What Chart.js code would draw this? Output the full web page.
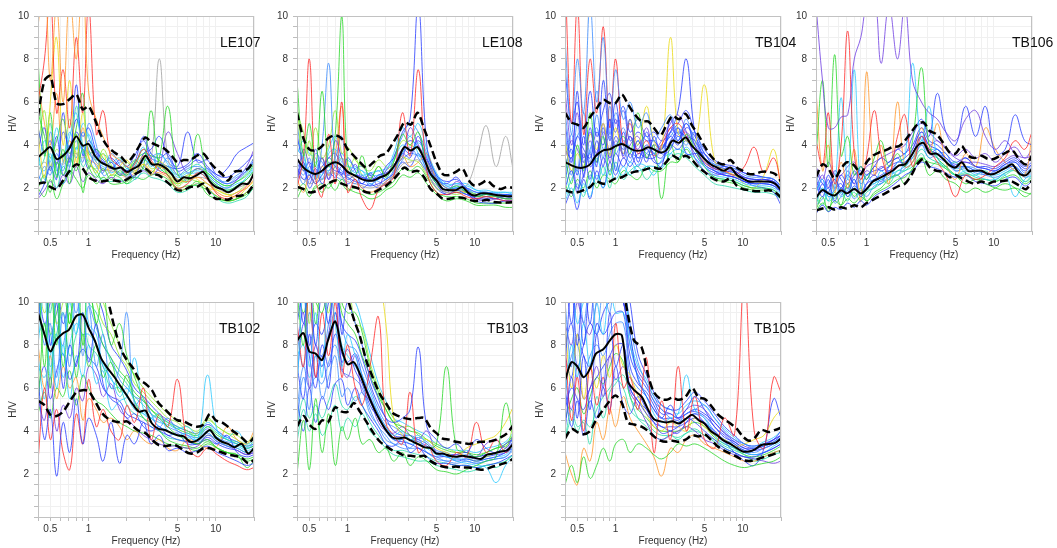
<!DOCTYPE html>
<html>
<head>
<meta charset="utf-8">
<script src="https://cdn.jsdelivr.net/npm/chart.js@4.4.0/dist/chart.umd.min.js"></script>
<style>
  body { margin: 0; background: #fff; width: 1057px; height: 548px; position: relative; overflow: hidden; }
  canvas { position: absolute; }
</style>
</head>
<body>
<script>
// frequency grids (Hz)
const FREQ_MEAN = [0.4,0.45,0.5,0.56,0.63,0.7,0.8,0.9,1.0,1.12,1.25,1.4,1.6,1.8,2.0,2.25,2.5,2.8,3.15,3.55,4.0,4.5,5.0,5.6,6.3,7.1,8.0,9.0,10,11.2,12.5,14,16,18,20];
const FREQ_WIN = [0.4,0.45,0.5,0.56,0.63,0.71,0.8,0.9,1,1.15,1.3,1.5,1.75,2,2.3,2.7,3.1,3.6,4.2,5,6,7.2,8.6,10.3,12.3,14.7,17.5,20];
const X_TICKS = [0.4,0.5,0.6,0.7,0.8,0.9,1,2,3,4,5,6,7,8,9,10,20];
const X_LABELS = [0.5,1,5,10];
const Y_LABELS = [2,4,6,8,10];

// LE107
const LE107_MEAN  = [3.43,3.7,3.9,3.35,3.5,3.8,4.4,3.97,4.05,3.5,3.2,3.05,2.9,2.95,2.75,2.9,3.05,3.5,3.1,3.1,2.95,2.65,2.3,2.5,2.45,2.6,2.75,2.3,2.05,1.95,1.8,1.95,2.2,2.2,2.7];
const LE107_UPPER = [5.35,7.0,7.2,5.95,5.9,6.1,6.35,5.65,5.8,5.2,4.45,3.95,3.65,3.45,3.2,3.5,3.95,4.35,4.1,3.95,3.8,3.5,3.2,3.3,3.3,3.5,3.6,3.2,2.9,2.65,2.35,2.75,2.8,2.9,3.3];
const LE107_LOWER = [2.2,2.25,2.05,1.95,2.35,2.75,3.1,2.9,2.5,2.35,2.3,2.35,2.35,2.3,2.4,2.6,2.75,2.9,2.65,2.6,2.35,2.1,1.9,1.9,2.05,2.05,2.2,1.75,1.5,1.5,1.45,1.6,1.65,1.8,2.2];
const LE107_WINDOWS = [
  [9.5,12,7,10.5,6,11,8,12,6.5,5.2,4.4,3.6,3.3,3.0,2.9,3.5,3.2,3.0,2.8,2.4,2.3,2.5,2.2,1.8,1.6,1.8,2.0,2.4],
  [6,8,11,5.5,7.5,4.8,9,5.5,10.5,4.5,5.6,3.4,3.0,2.7,3.1,3.8,3.3,2.8,2.6,2.0,2.2,2.7,2.4,1.7,1.5,1.7,2.1,2.6],
  [4.5,2.5,6,9,4,7,3.2,5.5,3.5,2.7,3.6,2.6,3.0,3.3,2.8,3.1,2.6,3.2,2.9,2.2,2.6,2.4,2.0,1.9,1.7,1.6,2.0,2.3],
  [8,3.5,5.5,2.5,3.8,2.2,4.5,1.8,3.0,2.8,2.3,2.6,2.5,2.2,2.6,3.0,5.6,3.0,2.6,1.9,2.0,2.3,1.7,1.5,1.4,1.5,1.8,2.2],
  [2.0,2.6,1.8,3.2,2.6,3.4,2.8,3.8,3.0,2.5,2.9,2.4,2.8,2.6,3.3,2.9,2.7,3.4,5.8,2.7,2.3,4.5,2.6,2.1,1.9,2.1,2.4,2.8],
  [3.0,4.2,3.2,4.8,3.5,4.4,5.5,3.6,4.5,3.4,3.1,3.3,2.7,2.9,3.1,3.9,3.0,3.6,3.1,2.5,2.7,2.8,2.6,2.2,2.0,2.2,2.4,2.9],
  [2.3,3.0,2.6,3.6,2.8,4.0,3.4,4.6,3.8,3.0,2.7,3.6,3.1,2.5,3.0,3.2,3.6,2.9,3.4,2.6,2.9,3.0,2.8,2.4,2.3,2.6,2.9,3.4],
  [1.6,2.2,3.0,2.4,5.5,3.2,6.8,3.5,4.2,3.6,2.8,3.2,2.6,2.8,2.5,3.6,3.8,4.4,3.5,3.0,4.6,3.2,3.3,2.6,2.9,3.6,3.9,4.1],
  [4.8,3.6,4.2,3.1,4.6,3.9,5.2,4.4,4.8,3.7,3.3,2.9,3.3,3.0,3.5,4.2,3.4,3.2,3.0,2.9,3.1,3.6,3.0,2.6,2.5,2.8,3.2,3.6],
  [2.8,3.2,2.9,3.3,3.1,3.5,3.6,3.4,3.7,3.2,2.9,2.8,2.7,2.6,2.8,3.0,3.3,8.0,3.4,2.6,2.4,2.5,2.4,2.0,1.8,2.0,2.2,2.6],
  [3.6,2.4,3.0,2.0,3.0,2.6,3.9,3.0,3.3,2.6,2.4,2.3,2.4,2.2,2.4,2.7,2.5,2.4,2.2,1.8,1.9,2.2,2.0,1.5,1.3,1.4,1.6,2.1],
  [1.5,1.9,2.3,2.0,2.6,2.2,3.0,2.3,2.7,2.4,2.2,2.5,2.3,2.4,2.6,2.8,2.6,3.0,4.6,3.6,2.7,2.9,2.6,2.2,2.0,2.4,3.0,3.8],
  [3.2,2.8,3.6,2.6,3.2,4.6,3.8,5.0,4.4,3.2,3.0,2.7,2.9,2.6,2.9,3.3,3.1,2.8,2.9,2.4,2.6,2.7,2.5,2.1,1.9,2.1,2.5,3.0],
  [5.5,4.4,3.4,4.2,5.2,3.6,4.8,6.4,3.6,3.8,3.4,3.0,2.6,2.7,3.2,3.6,3.5,3.3,2.6,2.2,2.5,2.9,2.7,2.3,2.1,2.3,2.6,3.1],
  [2.6,2.2,4.6,3.0,2.2,3.0,4.2,3.2,5.0,4.0,2.6,2.8,3.2,3.0,2.4,2.9,3.4,3.6,3.2,2.8,2.3,2.6,2.9,2.5,2.2,2.5,2.8,3.2],
  [4.0,5.6,3.0,3.8,3.4,5.2,3.6,4.0,3.2,2.9,3.8,3.1,2.6,3.2,2.7,3.4,2.9,3.0,2.7,2.1,2.4,2.3,2.2,1.9,1.7,1.8,2.2,2.6],
  [2.0,1.6,2.4,1.5,2.2,2.8,2.4,2.0,2.6,2.2,2.5,2.2,2.2,2.3,2.5,2.4,2.6,2.6,2.4,2.0,2.1,2.1,1.9,1.6,1.4,1.5,1.7,2.0],
  [3.8,4.8,2.8,4.4,2.6,3.4,4.6,3.8,2.9,3.8,3.2,3.4,3.0,2.8,3.2,4.4,3.6,3.4,3.6,2.8,3.0,3.3,2.9,2.4,2.2,2.4,2.8,3.3],
  [7,5,4,6.4,3.2,4.2,3.0,4.8,3.4,3.1,2.8,2.9,2.7,2.5,2.7,3.1,2.8,2.7,2.5,1.9,2.0,2.2,2.0,1.6,1.4,1.5,1.8,2.1],
  [2.8,3.4,5.0,2.8,3.6,3.0,5.8,4.0,3.6,3.3,3.6,3.2,3.4,2.9,3.0,3.8,3.2,3.1,3.0,2.6,2.8,3.1,2.7,2.3,2.1,2.3,2.7,3.2]
];

// LE108
const LE108_MEAN  = [3.35,2.95,2.75,2.65,2.8,3.05,3.2,3.05,2.75,2.6,2.45,2.35,2.35,2.5,2.6,2.9,3.35,3.9,3.75,3.9,3.35,2.65,2.35,1.95,1.9,1.9,2.05,1.75,1.65,1.75,1.75,1.7,1.65,1.62,1.62];
const LE108_UPPER = [5.5,4.3,3.8,3.75,3.95,4.3,4.45,4.3,3.8,3.5,3.2,2.95,3.2,3.5,3.6,4.05,4.5,5.05,4.95,5.5,4.75,3.95,3.2,2.65,2.6,2.75,2.9,2.35,2.1,2.2,2.35,2.1,1.95,2.05,2.0];
const LE108_LOWER = [2.05,1.95,1.8,1.85,2.05,2.2,2.35,2.2,2.1,2.05,1.95,1.8,1.8,1.95,2.1,2.35,2.65,2.95,2.75,2.8,2.5,1.95,1.75,1.5,1.5,1.55,1.55,1.45,1.4,1.4,1.45,1.35,1.32,1.32,1.35];
const LE108_WINDOWS = [
  [7,3.5,5,3,6.5,3,4.5,10,3.2,2.6,3.5,2.4,3.0,2.5,3.2,4.5,4.0,4.6,3.0,2.2,1.9,2.1,1.8,1.6,1.7,1.6,1.5,1.5],
  [2.0,3.5,8.0,2.5,1.6,4.5,2.2,6.0,1.8,2.4,1.5,1.0,1.9,2.2,2.5,5.5,3.5,7.5,2.8,1.8,1.7,1.8,1.6,1.5,1.6,1.5,1.4,1.4],
  [4.5,3.0,2.4,3.8,2.7,3.4,3.0,2.6,3.4,2.8,2.2,2.7,2.4,3.0,3.4,4.6,5.2,10.5,4.0,2.6,2.3,2.4,2.0,1.5,1.6,1.5,1.7,1.6],
  [3.2,2.6,3.4,2.4,4.0,7.8,3.2,2.8,2.5,2.2,2.6,2.1,2.6,2.4,2.8,3.6,3.9,3.4,2.8,2.5,2.0,2.1,2.0,1.8,1.8,1.75,1.7,1.7],
  [3.8,3.4,2.8,3.0,2.6,3.6,3.8,3.2,3.0,2.9,2.6,2.7,2.8,2.9,3.3,4.0,3.7,4.1,3.5,2.6,2.1,2.0,2.1,1.9,1.9,1.8,1.8,1.8],
  [1.5,2.0,1.6,2.1,1.8,2.2,1.9,2.4,2.0,1.8,1.7,1.5,1.6,1.9,2.1,2.6,2.5,2.7,2.2,1.7,1.4,1.5,1.4,1.2,1.2,1.2,1.1,1.1],
  [3.0,2.4,2.6,2.2,2.6,3.0,2.8,2.7,2.5,2.3,2.2,2.1,2.2,2.4,2.7,3.8,4.2,3.9,3.0,2.2,1.7,1.9,1.7,1.6,1.7,1.6,1.5,1.5],
  [2.6,2.4,2.2,2.3,2.4,2.6,2.7,2.5,2.3,2.2,2.1,2.0,2.1,2.2,2.5,3.1,3.2,3.3,2.7,2.1,1.8,1.9,2.1,3.3,4.9,3.0,4.4,2.9],
  [2.2,3.8,3.1,2.6,3.4,2.4,4.2,3.4,2.6,3.1,2.4,2.6,2.1,2.8,3.1,3.4,4.8,4.0,3.3,2.3,1.8,2.3,1.9,1.5,1.4,1.5,1.6,1.5],
  [5.5,4.6,3.5,4.8,3.4,4.0,5.6,3.6,3.9,3.3,3.0,2.8,3.3,3.0,2.8,3.4,3.3,3.2,2.6,2.0,1.8,1.7,1.8,1.7,1.6,1.6,1.5,1.5],
  [2.4,1.8,2.6,2.2,3.0,2.6,3.6,5.8,2.8,2.4,2.0,1.8,2.0,2.3,2.6,3.5,3.0,3.2,3.6,2.4,2.0,1.9,1.8,1.6,1.6,1.6,1.5,1.5],
  [2.6,3.2,2.2,2.9,2.2,2.7,2.5,3.0,2.4,2.6,2.5,2.3,2.6,2.7,3.0,3.6,3.4,4.4,3.1,2.4,2.2,2.5,1.8,1.4,1.3,1.3,1.4,1.4],
  [3.4,2.8,3.2,2.6,3.0,3.4,3.6,3.0,2.8,2.6,2.5,2.4,2.5,2.6,3.0,3.8,3.6,4.2,3.4,2.5,2.0,2.0,2.0,1.8,1.8,1.7,1.7,1.7],
  [4.2,3.6,2.6,3.2,2.4,2.8,3.2,3.6,3.1,2.7,2.8,2.2,2.4,2.6,2.9,3.6,4.4,3.6,2.9,2.2,1.9,1.9,1.9,1.7,1.7,1.6,1.6,1.6],
  [2.8,2.2,3.0,2.6,2.4,3.2,2.6,2.4,2.6,2.4,2.2,2.5,2.3,2.2,2.6,3.3,3.6,3.5,3.3,2.4,1.9,2.0,1.8,1.6,1.6,1.6,1.6,1.5],
  [6.0,2.8,4.2,2.4,3.4,2.6,3.0,3.4,2.8,3.4,2.6,2.4,3.0,2.6,3.2,4.2,4.0,3.8,3.2,2.4,2.0,1.8,1.9,1.7,1.7,1.6,1.6,1.6],
  [2.4,3.0,2.0,2.6,3.4,2.4,3.0,2.6,2.2,2.4,2.0,2.2,2.0,2.3,2.6,3.2,3.0,3.6,2.8,2.0,1.7,1.8,1.7,1.5,1.5,1.5,1.4,1.4],
  [3.6,4.2,3.6,3.4,2.8,3.8,4.4,3.4,3.3,3.0,2.8,2.6,2.6,2.8,3.6,4.8,4.4,5.0,3.8,2.7,2.2,2.2,2.2,1.9,1.8,1.8,1.8,1.7],
  [1.8,2.2,1.8,2.0,2.2,2.0,2.4,2.2,1.9,2.0,1.9,1.7,1.8,2.0,2.3,2.9,2.8,3.0,2.5,1.8,1.6,1.6,1.5,1.3,1.3,1.3,1.3,1.3],
  [5.0,3.2,2.8,3.6,3.2,2.8,3.4,4.4,2.6,2.9,3.0,2.6,2.8,2.4,3.4,4.4,5.0,4.6,3.6,2.6,2.1,2.2,2.0,1.7,1.7,1.6,1.6,1.6]
];

// TB104
const TB104_MEAN  = [3.2,3.05,2.95,2.95,3.1,3.5,3.75,3.8,3.95,4.05,3.9,3.75,3.75,3.9,3.8,3.65,3.75,4.2,4.1,4.35,3.95,3.65,3.35,3.1,2.95,2.8,2.95,2.6,2.45,2.3,2.3,2.3,2.3,2.2,1.9];
const TB104_UPPER = [5.5,5.05,4.95,4.8,5.3,5.65,6.1,5.95,5.95,6.35,5.9,5.45,5.1,5.1,4.8,4.45,4.9,5.35,5.2,5.45,4.9,4.45,3.95,3.5,3.2,3.1,3.3,2.95,2.8,2.65,2.65,2.75,2.75,2.65,2.3];
const TB104_LOWER = [1.9,1.8,1.8,1.9,2.05,2.3,2.2,2.3,2.45,2.5,2.65,2.75,2.8,2.9,2.95,2.9,3.2,3.5,3.35,3.5,3.3,2.95,2.75,2.5,2.35,2.3,2.45,2.1,1.95,1.9,1.85,1.85,1.9,1.8,1.55];
const TB104_WINDOWS = [
  [5,3.2,6.5,2.5,4.8,3.0,7.0,4.2,6.0,3.5,5.2,3.2,4.6,3.4,3.0,5.2,4.2,5.0,4.0,3.1,2.8,2.6,2.5,2.3,2.2,2.2,2.1,1.8],
  [2.0,2.8,1.8,3.6,2.4,4.2,3.0,5.2,2.8,4.6,3.4,4.2,3.2,4.4,3.6,3.8,4.8,3.6,3.6,3.6,2.9,3.0,2.8,2.5,2.4,2.4,2.3,2.0],
  [9,4.5,8,5.5,10.5,6,9,4.5,7.5,5.2,6.0,4.8,5.5,4.2,4.8,5.4,4.5,5.0,4.2,3.4,3.1,3.0,2.9,2.6,2.5,2.5,2.4,2.0],
  [1.4,2.0,1.3,2.2,1.6,2.6,2.0,2.8,2.4,3.0,2.6,3.1,3.0,2.6,3.3,3.6,3.4,3.9,3.4,3.0,2.6,2.5,2.4,2.2,2.1,2.1,2.0,1.7],
  [3.5,2.2,4.0,2.8,5.5,3.2,4.4,2.6,3.8,4.4,3.6,5.5,3.4,4.0,1.5,4.0,3.2,4.5,3.8,3.0,2.5,2.4,2.3,2.1,2.0,2.0,1.9,1.6],
  [12,5,10.5,4.5,8,5.5,9.5,4.8,8,4,5,3.6,4.2,3.5,4.0,4.8,5.0,4.4,3.8,3.2,2.9,2.8,2.6,3.0,3.9,2.7,3.4,2.2],
  [4.2,2.8,3.6,3.0,4.5,3.8,5.0,3.5,4.8,3.6,5.2,4.0,5.8,4.2,3.8,9.0,4.6,4.2,4.0,6.8,3.3,2.8,2.6,2.2,2.0,2.6,3.8,1.9],
  [1.2,1.8,1.0,2.4,1.5,2.8,2.0,3.2,2.6,3.4,3.0,3.6,3.4,3.4,3.8,4.6,5.6,8.0,4.6,3.4,2.8,2.6,2.5,2.3,2.1,2.0,1.8,1.2],
  [6.5,4.0,5.5,3.4,4.6,3.6,5.0,3.2,4.2,3.6,4.4,3.8,4.8,3.8,4.2,5.0,5.4,4.6,3.4,2.8,2.6,2.7,2.8,2.4,2.3,2.4,2.2,1.9],
  [2.8,1.8,2.2,1.6,2.6,2.2,3.0,2.0,3.2,2.4,2.8,3.0,2.4,2.8,3.0,3.4,3.6,3.4,3.0,2.6,2.2,2.1,2.0,1.9,1.8,1.8,1.7,1.5],
  [3.8,3.4,4.4,3.8,3.4,4.6,4.0,5.2,4.6,5.6,4.2,4.6,4.2,4.2,3.8,4.4,4.0,4.8,4.4,3.6,3.2,3.0,2.9,2.7,2.6,2.5,2.4,2.1],
  [2.4,4.5,2.8,5.5,3.6,6.5,4.4,3.6,5.5,4.0,3.2,4.2,3.6,3.6,4.0,3.9,4.4,4.0,4.6,3.6,3.1,2.9,2.7,2.4,2.3,2.3,2.2,1.9],
  [3.0,3.8,2.6,4.4,3.0,3.6,4.8,3.4,4.4,3.8,4.4,3.4,4.0,3.6,3.4,4.2,4.6,4.4,4.2,3.4,3.0,2.8,2.7,2.4,2.3,2.3,2.2,1.9],
  [4.6,2.6,5.0,3.2,3.8,4.8,3.4,5.8,3.6,4.2,3.8,3.4,3.6,4.2,3.6,4.6,4.2,5.2,3.8,3.2,2.9,2.7,2.6,2.3,2.2,2.2,2.1,1.8],
  [2.4,3.4,2.0,2.6,3.6,2.4,3.4,2.8,3.6,3.0,3.6,3.0,3.8,3.2,3.2,4.0,3.8,4.2,3.6,3.0,2.7,2.6,2.5,2.3,2.2,2.2,2.1,1.8],
  [7.5,5.0,6.0,4.0,6.5,4.4,5.6,6.4,5.0,5.8,4.6,5.2,4.4,4.6,4.2,4.6,5.0,5.6,4.6,3.8,3.3,3.1,3.0,2.7,2.6,2.5,2.4,2.1],
  [1.6,2.4,2.8,1.8,2.2,3.4,2.6,3.6,3.0,2.6,3.2,2.8,3.0,3.0,2.9,3.6,3.8,3.6,3.4,2.8,2.5,2.4,2.3,2.1,2.0,2.0,1.9,1.6],
  [3.4,4.2,3.8,3.2,4.2,3.2,4.6,3.8,5.2,3.4,4.0,4.4,3.4,4.0,3.8,4.8,4.4,4.6,4.0,3.4,3.0,2.9,2.8,2.5,2.4,2.4,2.3,2.0],
  [5.5,3.6,4.4,4.8,3.2,5.4,3.8,4.4,4.0,4.8,3.8,4.0,4.4,3.6,3.9,4.4,4.8,4.2,3.8,3.1,2.8,2.7,2.6,2.5,2.4,2.3,2.3,2.0],
  [2.2,1.6,2.4,2.0,2.8,2.0,2.6,2.4,2.2,2.8,2.6,2.4,3.0,2.8,2.8,3.2,3.2,3.8,3.2,2.8,2.4,2.3,2.2,2.0,1.9,1.9,1.8,1.5]
];

// TB106
const TB106_MEAN  = [1.55,1.9,1.75,1.65,1.9,1.75,1.95,1.75,1.95,2.3,2.45,2.6,2.8,3.05,3.1,3.5,3.95,4.1,3.6,3.6,3.35,3.05,2.95,3.2,2.8,2.8,2.8,2.65,2.65,2.8,2.95,3.1,2.65,2.6,2.9];
const TB106_UPPER = [2.5,3.1,2.9,2.45,2.9,3.2,3.05,2.65,3.2,3.5,3.65,3.75,3.9,3.95,4.2,4.6,4.95,5.05,4.65,4.5,4.1,3.65,3.6,3.95,3.5,3.4,3.5,3.35,3.35,3.5,3.65,3.75,3.3,3.1,3.5];
const TB106_LOWER = [0.95,1.05,1.1,1.0,1.1,1.05,1.2,1.1,1.3,1.45,1.6,1.75,1.95,2.1,2.2,2.6,3.1,3.35,2.95,2.8,2.75,2.5,2.6,2.45,2.3,2.2,2.3,2.2,2.3,2.3,2.35,2.3,2.1,1.95,2.35];
const TB106_WINDOWS = [
  [10.5,7,4.8,4.8,5.3,5.4,8,9,10.5,11,7.8,10.5,8.0,10.5,7,6,5.5,5.2,4.6,4.2,5.2,5.6,4.4,3.8,4.2,3.6,3.4,3.5],
  [4.2,3.0,5.5,2.2,4.0,9.3,3.6,2.4,3.4,5.6,3.6,2.6,4.4,5.4,3.0,4.4,3.8,3.2,2.6,1.6,2.6,2.4,2.6,3.0,3.4,4.2,3.8,4.6],
  [3.5,7.0,3.0,8.2,3.5,4.4,2.6,3.0,2.4,3.4,4.2,3.0,3.6,3.0,4.2,7.6,4.0,3.4,3.0,2.6,2.2,2.4,2.2,2.0,1.9,2.0,1.8,1.7],
  [1.8,2.4,1.6,2.0,6.2,2.4,7.5,2.0,2.6,2.2,2.8,2.4,3.2,3.4,7.8,4.2,5.8,3.4,3.0,2.6,2.8,2.6,2.4,2.4,2.6,1.6,2.4,2.6],
  [0.8,1.2,0.9,1.1,1.0,1.3,1.1,1.4,1.2,1.6,1.8,2.0,2.3,2.6,2.8,3.2,3.0,2.9,2.7,2.5,2.6,2.3,2.2,2.1,2.4,2.5,2.1,2.3],
  [2.2,1.6,2.4,1.4,2.0,1.8,2.4,1.6,2.2,2.6,2.3,3.0,3.4,3.0,3.8,4.6,4.0,3.8,3.4,3.0,3.4,3.0,2.9,2.8,3.1,3.2,2.8,3.1],
  [1.4,2.2,1.8,2.4,2.0,2.6,2.2,3.0,2.6,3.0,3.4,3.2,3.8,3.6,4.4,5.2,4.4,6.4,4.6,4.0,5.8,4.4,5.8,3.6,3.8,5.4,4.2,4.0],
  [6.5,2.8,4.0,1.8,3.2,2.0,3.8,1.4,7.4,2.6,4.0,2.2,6.0,3.0,3.2,4.8,3.6,5.0,3.2,2.4,3.6,3.0,4.8,3.8,3.2,2.8,2.6,4.4],
  [1.0,1.6,0.9,1.8,1.2,2.2,1.6,2.0,1.4,1.8,2.0,2.4,2.6,2.2,2.9,3.4,2.6,2.8,2.4,2.2,1.8,2.0,1.8,2.0,2.2,2.0,1.6,1.8],
  [2.6,1.9,2.2,2.7,1.7,2.4,1.9,2.6,2.0,2.4,2.2,2.8,2.6,3.2,3.4,4.0,3.4,3.6,3.6,2.8,3.0,2.9,2.6,2.8,3.0,3.2,2.7,3.0],
  [1.2,2.0,1.4,1.6,1.8,1.4,2.0,1.6,1.9,2.0,2.4,2.2,2.8,2.8,3.2,3.8,3.4,3.2,3.0,3.2,2.7,2.6,2.8,2.4,2.7,2.8,2.3,2.6],
  [3.0,2.4,3.2,2.6,2.6,3.0,3.2,2.6,3.0,3.2,3.4,3.6,3.8,4.0,4.6,5.0,4.6,4.2,3.9,3.5,3.8,3.4,3.6,3.2,3.6,3.9,3.4,3.8],
  [1.8,2.4,1.6,1.9,2.2,1.6,2.1,1.8,2.2,2.4,2.6,2.8,3.0,3.2,3.6,4.4,3.8,3.6,3.4,3.0,3.0,2.8,2.7,2.7,2.9,3.0,2.6,2.9],
  [1.2,1.5,2.0,1.3,1.6,2.0,1.5,1.9,1.6,2.1,2.2,2.5,2.6,2.9,3.2,4.0,3.6,3.4,3.2,2.8,2.9,2.7,2.6,2.5,2.7,2.9,2.5,2.7],
  [2.4,1.8,2.6,2.0,2.6,2.2,2.8,2.2,2.6,2.8,2.9,3.2,3.4,3.6,4.0,4.8,4.2,4.0,3.6,3.2,3.4,3.0,3.0,2.9,3.2,3.4,3.0,3.2],
  [1.5,1.9,1.4,2.2,1.6,1.9,2.4,1.7,2.0,2.2,2.4,2.6,2.8,3.0,3.4,4.2,3.8,3.8,3.3,2.9,3.0,2.8,2.7,2.6,2.8,3.0,2.6,2.8],
  [0.9,1.3,1.1,1.4,1.2,1.5,1.3,1.6,1.4,1.7,1.9,2.1,2.4,2.5,2.9,3.4,3.2,3.1,2.9,2.6,2.6,2.4,2.4,2.3,2.5,2.6,2.2,2.4],
  [2.0,2.6,2.0,2.4,1.8,2.8,2.2,2.4,2.8,2.6,3.0,2.8,3.2,3.4,3.8,4.6,4.0,4.2,3.8,3.4,3.2,3.2,3.1,3.0,3.3,3.5,3.1,3.4],
  [1.6,1.2,1.8,1.5,2.0,1.6,1.8,1.4,1.8,2.0,2.2,2.4,2.6,2.8,3.0,3.6,3.0,3.2,2.9,2.6,2.7,2.5,2.4,2.3,2.6,2.8,2.3,2.5],
  [2.8,2.2,2.0,2.8,2.4,2.0,2.6,2.8,2.4,3.0,2.8,3.0,3.2,3.2,3.6,4.4,3.6,3.8,3.4,3.1,3.2,3.0,2.9,2.8,3.1,3.3,2.9,3.1]
];

// TB102
const TB102_MEAN  = [9.5,8.5,7.7,8.25,8.55,8.7,9.35,9.4,8.8,8.2,7.4,6.95,6.5,6.05,5.65,5.2,4.9,4.95,4.35,4.1,4.05,3.9,3.8,3.75,3.5,3.55,3.8,4.05,3.7,3.5,3.4,3.25,3.4,2.95,3.2];
const TB102_UPPER = [13,13,12.5,12.5,12.5,12.5,13,13,12.5,12,11,10.2,8.8,7.8,7.3,6.9,6.4,6.2,5.9,5.3,5.0,4.7,4.5,4.45,4.3,4.2,4.3,4.8,4.5,4.4,4.2,3.95,3.7,3.45,3.7];
const TB102_LOWER = [5.4,5.2,4.75,4.7,4.9,5.3,5.8,5.9,5.85,5.4,4.9,4.6,4.45,4.4,4.45,4.2,4.0,3.9,3.6,3.35,3.3,3.35,3.3,3.1,2.95,3.0,3.2,3.2,3.1,3.0,2.9,2.85,2.75,2.5,2.65];
const TB102_WINDOWS = [
  [12,7,11,8,12,9,13,8,11,9,10.5,8,9,7.5,6.5,5.5,5.0,4.6,4.2,3.8,3.6,3.4,3.6,3.2,3.0,2.8,2.6,2.7],
  [8,10.5,6.5,11,7.5,10,8.5,11,9,8.5,7,6.5,5.6,6.0,5.4,4.8,4.6,4.8,4.0,3.8,3.9,3.6,6.6,4.0,3.6,3.4,3.2,3.4],
  [6.5,3.6,5.0,1.9,4.4,3.0,5.5,3.4,4.6,3.8,2.6,4.4,2.5,3.8,3.4,4.4,3.4,3.8,3.1,3.2,3.0,3.1,3.3,3.0,2.8,2.6,2.4,2.5],
  [2.6,6.0,3.6,5.0,3.0,2.2,4.8,3.4,6.4,4.2,5.0,4.0,3.6,5.2,4.4,6.0,3.6,4.8,4.2,6.4,3.4,2.8,3.2,2.9,2.6,2.4,2.2,2.3],
  [5.0,9,6,10.5,7,9.5,6.5,8.5,7,8,6.5,7.2,5.8,6.6,5.4,4.6,4.4,4.0,3.6,3.4,3.3,3.2,3.5,3.2,3.0,2.9,2.3,2.6],
  [10.5,8,9,6.5,9.5,7,10.5,7.5,9.8,7,8.5,6,7,9.5,5.2,5.6,4.8,4.2,4.6,4.0,3.8,3.5,3.9,3.5,3.3,3.2,3.0,3.1],
  [9,12,8,10,6,8,7,9.5,7.2,9,6.2,5.5,5.2,4.6,4.8,4.2,4.0,4.2,3.8,3.9,3.4,3.4,3.6,3.4,3.8,3.0,2.8,2.9],
  [7.5,5.5,8.5,6,8,5.5,7.5,6.5,8,6.2,6.8,5.0,5.4,5.6,7.4,5.0,4.6,4.4,4.3,4.1,4.2,3.8,4.4,4.0,3.7,4.0,3.4,3.6],
  [11,9.5,10.5,9,10,11,12,10,11.5,10,9,8.5,7.5,7.0,6.2,5.8,5.4,5.0,4.6,4.4,4.0,3.9,4.5,4.2,3.9,3.8,3.5,3.8],
  [5.5,4.5,6.5,4.0,5.2,4.6,6.0,5.4,7.0,6.6,5.6,6.2,5.0,4.6,4.2,3.8,3.6,3.4,3.3,3.3,3.2,3.3,3.8,3.5,3.3,3.1,2.9,3.0],
  [8,6,7.5,5.5,7,6,6.5,4.5,5.5,5,4.4,4.6,4.2,3.6,4.0,3.6,3.4,3.6,3.2,3.1,3.6,3.4,3.2,3.3,4.2,3.6,3.4,4.0],
  [12,11,9.5,12,10.5,12,11,12,10,9.5,8.5,7.2,6.6,6.2,5.6,5.2,4.8,4.6,4.4,4.2,4.0,3.7,4.2,3.9,3.6,3.5,3.3,3.5],
  [9.5,11,8.5,9.5,10.5,9,11,10,10.5,9,8,7.4,6.8,6.4,5.8,5.4,5.0,4.7,4.4,4.1,3.9,3.8,4.2,3.8,3.6,3.4,3.2,3.3],
  [7,6.5,7.5,8.5,6.5,8,9,8.5,8.5,8,7.2,6.4,6.0,5.6,5.0,4.8,4.6,4.2,4.0,3.8,3.7,3.6,4.0,3.7,3.4,3.3,3.1,3.2],
  [10,8.5,11,9,8,10.5,9.5,11,10,8.8,8,7.4,6.4,6.0,5.6,5.4,4.8,4.5,4.2,4.0,3.8,3.7,4.1,3.7,3.5,3.4,3.2,3.3],
  [6,7,5.5,6.8,7.6,6.4,7.2,7.8,7.4,7.0,6.0,5.6,5.4,4.8,4.6,4.4,4.2,4.0,3.8,3.6,3.5,3.4,3.7,3.4,3.2,3.1,2.9,3.0],
  [12,10,12,10.5,11,12,11.5,12,12,11,10,9,8,7.2,6.6,6.0,5.6,5.2,4.8,4.5,4.2,4.0,4.6,4.2,3.9,3.6,3.4,3.6],
  [8.5,9,7,8.5,9.5,7.5,8.5,9.5,8,7.6,7.0,6.0,6.0,5.2,4.8,4.6,4.2,4.0,3.7,3.6,3.5,3.4,3.8,3.6,3.3,3.2,3.0,3.1],
  [4.8,5.8,4.6,6.0,5.6,6.8,5.2,6.6,6.0,5.4,5.2,4.8,4.4,4.2,4.0,3.9,3.8,3.6,3.4,3.3,3.2,3.1,3.4,3.2,3.0,2.9,2.7,2.8],
  [11,9,10,11,9,10.5,12,11,12,10.5,9.5,8,7.4,6.8,6.0,5.6,5.2,4.8,4.5,4.2,4.0,3.9,4.3,4.0,3.7,3.5,3.3,3.4]
];

// TB103
const TB103_MEAN  = [8.2,8.55,7.7,7.6,7.3,8.2,9.1,7.8,7.1,7.2,6.65,5.9,5.1,4.5,4.05,3.7,3.65,3.7,3.55,3.4,3.25,3.2,2.95,2.95,2.85,2.8,2.85,2.8,2.75,2.7,2.9,2.95,3.05,3.1,3.4];
const TB103_UPPER = [12,12,12,12,12,12,12,11.5,10.2,9.2,8.4,7.3,6.4,5.7,5.3,4.85,4.7,4.6,4.55,4.6,4.6,4.15,3.9,3.65,3.6,3.5,3.45,3.4,3.45,3.5,3.5,3.55,3.7,3.9,4.25];
const TB103_LOWER = [4.2,4.7,4.3,4.1,4.5,4.4,5.1,4.9,4.9,5.3,4.9,4.45,3.9,3.5,3.3,3.1,3.0,2.85,2.85,2.8,2.85,2.6,2.45,2.35,2.3,2.35,2.3,2.3,2.25,2.2,2.25,2.35,2.45,2.55,2.7];
const TB103_WINDOWS = [
  [12,9,11,8,10.5,9,12,8.5,10,9,8,6.5,5.5,4.6,4.4,4.6,5.0,7.9,4.2,3.6,3.2,3.4,3.0,3.6,3.2,3.0,3.4,3.6],
  [2.0,4.5,2.2,5.5,3.0,4.8,2.4,4.2,3.6,4.6,3.4,3.6,3.0,3.2,2.6,3.0,2.4,2.8,2.6,2.2,2.1,2.0,2.2,2.4,2.6,2.8,5.3,3.8],
  [6,10.5,7,9.5,6.5,11,9,7,8.5,7.5,6.6,5.8,4.8,4.2,3.8,4.0,3.6,3.8,3.4,3.0,2.8,2.6,2.5,2.4,2.3,1.6,2.4,2.8],
  [9,7,11,6.5,9.5,7.5,10,6.5,8,6,5.2,7.0,9.3,4.4,3.8,3.4,5.8,3.0,3.4,2.6,2.4,3.0,2.8,4.4,3.0,3.6,3.0,3.4],
  [4.4,6.5,5.0,7.5,5.5,6.5,7.5,5.6,6.0,5.4,5.8,4.8,4.2,3.6,3.4,3.2,3.2,3.6,3.0,2.8,2.6,2.7,2.6,2.5,2.6,2.7,2.8,3.2],
  [10.5,8,12,9,11,10,11,9.5,9,8.5,7.5,6.6,5.6,5.0,4.4,4.0,3.8,3.4,3.2,3.4,7.0,3.2,3.0,2.8,3.0,3.2,3.4,3.8],
  [7,5.5,8.5,6.5,7.5,6,9.5,7.2,7.8,6.8,6.2,5.2,4.6,4.0,3.6,3.5,3.4,3.2,3.0,2.8,2.8,2.6,2.7,2.6,2.7,2.8,3.0,3.2],
  [12,11,12,10.5,11,12,11,12,11,10.5,11,11.5,11,9,4.6,3.8,3.6,3.4,3.6,3.2,3.0,2.8,3.2,3.4,3.6,3.8,4.4,5.1],
  [3.5,5.0,4.0,4.8,3.8,4.4,5.2,4.0,4.6,4.2,4.8,4.0,3.6,3.2,2.9,2.8,2.7,2.6,2.6,2.4,2.3,2.2,2.1,2.2,2.4,2.3,2.6,2.9],
  [8,9.5,6,8,7,8.5,10.5,7,6.5,7.5,5.8,5.4,4.4,4.0,3.9,4.2,3.8,3.6,4.0,3.0,2.8,2.9,3.0,2.8,3.4,3.6,3.2,3.8],
  [11,12,9,12,11,9.5,12,10,11,9,8.8,7.2,6.0,5.2,4.6,4.2,4.2,3.8,3.6,3.4,3.2,3.0,2.8,2.6,2.8,3.0,3.2,4.2],
  [5.5,4.0,6,4.4,5.6,5.0,6.2,6.4,5.2,6.0,5.2,4.6,4.0,3.4,3.3,3.6,3.0,3.2,2.8,2.5,2.5,2.4,2.4,2.3,2.4,2.5,2.7,2.9],
  [9,10.5,8,9,8.5,10,11,9,8.5,8.2,7.4,6.2,5.2,4.6,4.0,3.8,3.8,3.6,3.4,3.0,2.9,2.8,2.8,2.7,2.8,2.9,3.0,3.4],
  [7.5,8,6.5,7.5,7,8.5,9.5,8,7.5,7.0,6.4,5.4,4.6,4.0,3.6,3.6,3.4,3.4,3.2,2.9,2.8,2.7,2.7,2.6,2.7,2.8,2.9,3.3],
  [5,7,6,6.5,6.2,7.2,8,6.8,6.6,6.4,6.0,5.0,4.2,3.8,3.4,3.4,3.2,3.2,3.0,2.7,2.6,2.5,2.6,2.5,2.6,2.7,2.8,3.1],
  [11,9.5,10.5,10,9.5,11,12,10,9.5,9.5,8.6,7.0,5.8,5.0,4.4,4.2,4.0,3.9,3.6,3.3,3.1,3.0,3.0,2.9,3.0,3.2,3.3,3.7],
  [6.5,9,7.5,6,8,7,8.5,7.6,7.2,7.6,6.6,5.6,4.8,4.2,3.8,3.7,3.6,3.5,3.3,3.0,2.9,2.9,2.8,2.8,2.9,3.0,3.1,3.5],
  [12,12,10.5,11,12,12,12,11,10.5,10,9.0,7.6,6.2,5.4,4.6,4.4,4.2,4.0,3.8,3.4,3.2,3.1,3.1,3.0,3.2,3.3,3.5,3.9],
  [4.2,5.5,4.6,5.2,4.6,5.4,6.2,5.2,5.0,5.6,5.2,4.4,3.8,3.4,3.1,3.1,3.0,2.9,2.8,2.6,2.5,2.4,2.4,2.3,2.4,2.5,2.6,2.9],
  [8.5,7,9.5,8,7.5,9,10.5,9,8,7.8,7.0,6.0,5.0,4.4,4.2,3.9,3.6,3.7,3.5,3.1,3.0,2.8,2.9,2.8,2.9,3.0,3.2,3.6]
];

// TB105
const TB105_MEAN  = [6.35,7.2,7.0,6.5,6.9,7.6,7.8,8.2,8.5,8.45,6.3,5.9,5.6,5.0,4.55,4.45,4.4,4.45,4.35,4.55,4.75,4.5,4.35,4.0,3.8,3.55,3.4,3.2,3.05,3.05,3.15,3.35,3.4,3.45,3.65];
const TB105_UPPER = [12,12,12,12,12,12,12,12,12,11,9.4,8.2,7.9,6.6,5.8,5.5,5.45,5.55,5.45,5.6,6.0,5.55,5.5,5.2,4.8,4.55,4.35,4.1,3.75,3.55,3.7,4.05,3.95,4.05,4.15];
const TB105_LOWER = [3.65,4.1,3.95,3.85,4.0,4.5,5.0,5.4,5.65,5.3,4.4,4.3,4.2,4.0,3.75,3.55,3.5,3.55,3.5,3.6,3.8,3.75,3.85,3.6,3.3,3.1,2.95,2.8,2.65,2.6,2.65,2.75,2.85,2.95,3.05];
const TB105_WINDOWS = [
  [12,9,11,8,10.5,10,12,10,11,10,8.5,6.4,5.6,5.0,4.6,5.2,4.6,5.0,5.6,5.0,4.2,3.8,3.4,3.1,3.1,3.4,3.6,3.8],
  [4.0,6.5,4.6,7.5,5.0,8.5,6.0,9.5,7.0,8.0,6.0,5.4,4.8,4.4,3.9,4.0,4.2,4.6,4.4,4.0,3.6,3.2,3.0,2.8,2.8,3.0,3.2,3.4],
  [8,4.5,6.5,4.0,7.0,5.2,6.5,4.8,9,6,6.5,5.0,7.4,3.0,5.4,3.6,7.0,4.0,5.6,3.6,3.2,4.6,3.8,11,4.0,3.2,6.5,5.8],
  [1.5,2.4,1.6,2.8,1.8,2.4,3.2,2.6,3.4,3.6,3.0,3.4,3.2,2.9,2.7,3.0,3.4,3.3,3.4,3.2,2.9,2.6,2.4,2.3,2.4,2.5,2.6,2.8],
  [5.5,8,6.5,9,7,10,8.5,11,9.5,9.5,8,6.5,5.6,4.8,4.4,4.6,4.8,6.6,5.0,4.6,3.8,3.4,3.2,3.0,2.9,3.0,3.3,3.5],
  [10,7,12,9,11,8.5,10.5,9.5,12,11,9,7.2,6.2,5.4,5.0,4.6,4.4,4.8,5.0,5.2,4.6,4.0,3.6,3.4,3.2,3.3,3.5,3.7],
  [3.0,2.0,1.5,3.2,2.6,4.4,3.6,5.0,4.2,5.6,4.6,4.0,3.4,2.8,1.9,3.2,3.0,3.6,3.8,3.4,3.2,3.0,2.8,2.6,2.6,2.8,3.0,3.1],
  [7,10.5,8,11,9,12,11,12,10.5,12,10,7.6,6.6,5.8,5.2,5.0,5.0,5.4,5.8,5.4,4.8,4.2,3.8,3.4,3.3,3.4,3.6,4.0],
  [9,6,8.5,5.5,7,6,7.5,6.5,8,7.0,6.6,5.6,4.8,4.2,4.0,4.4,4.2,4.0,4.6,4.2,3.8,3.6,3.3,3.4,3.6,3.8,4.6,5.0],
  [6.5,5.0,7.0,5.5,6.0,7.0,5.6,7.5,6.4,7.0,5.8,5.2,4.4,3.8,3.6,3.8,4.0,4.2,4.0,3.6,3.4,3.1,2.9,2.8,2.7,2.6,2.5,2.6],
  [3.6,5.0,4.2,4.4,3.4,5.6,4.6,5.8,6.2,6.6,5.6,4.6,4.2,3.8,3.6,3.8,3.6,3.9,4.1,3.8,3.6,3.3,3.1,2.9,2.6,2.7,2.9,3.0],
  [6,4.2,5.4,3.8,5.4,4.6,6.0,5.0,7.0,5.2,4.8,5.6,5.0,4.4,4.2,4.0,3.9,4.4,4.8,4.4,4.0,3.5,3.0,2.6,2.4,3.2,5.5,4.6],
  [8,9,7,8,9,8.5,9.5,10,10,10,7.5,6.6,6.0,5.4,4.8,4.8,4.6,4.8,5.0,4.8,4.4,3.9,3.5,3.2,3.2,3.3,3.5,3.8],
  [6,7.5,8,6.5,7.5,8,7.5,8.5,9,9,6.6,6.0,5.6,5.0,4.6,4.4,4.4,4.6,4.8,4.6,4.0,3.6,3.4,3.1,3.0,3.2,3.4,3.6],
  [5,6,5.5,5,6,6.5,7,7.5,8,8,6.0,5.4,5.0,4.6,4.2,4.2,4.2,4.4,4.6,4.4,3.9,3.5,3.3,3.0,2.9,3.0,3.2,3.4],
  [10,11,9,10,10.5,11,10,12,11,11,8.4,7.0,6.4,5.6,5.2,5.0,4.8,5.2,5.4,5.2,4.6,4.1,3.7,3.4,3.3,3.5,3.7,4.0],
  [4.5,5.5,6,4.8,5.6,6.5,6.2,7,7.6,7.2,5.6,5.0,4.6,4.2,4.0,4.0,4.0,4.2,4.4,4.2,3.7,3.4,3.2,2.9,2.8,2.9,3.1,3.3],
  [7.5,6.5,8.5,7.5,7,9,8.5,9,9.5,9.5,7.0,6.2,5.8,5.2,4.6,4.6,4.5,4.8,4.9,4.7,4.2,3.7,3.5,3.2,3.1,3.2,3.4,3.7],
  [3.6,4.5,4.0,4.5,4.2,5.0,5.6,6.0,6.4,6.0,5.0,4.6,4.4,4.0,3.8,3.8,3.7,3.9,4.0,3.8,3.5,3.2,3.0,2.8,2.7,2.8,3.0,3.1],
  [9,8,10,9,8.5,10,11,10.5,10.5,10,8,6.8,6.2,5.6,5.0,4.8,4.6,5.0,5.2,5.0,4.4,3.9,3.6,3.3,3.2,3.3,3.6,3.8]
];

// line colours (styles only)
const PALETTE = {
  red: "rgba(255,40,40,0.8)", orange: "rgba(255,150,40,0.8)", yellow: "rgba(235,220,30,0.85)",
  lime: "rgba(150,235,50,0.8)", green: "rgba(40,215,40,0.8)", teal: "rgba(40,220,170,0.8)",
  cyan: "rgba(40,200,255,0.8)", sky: "rgba(60,140,255,0.8)", blue: "rgba(40,60,255,0.8)",
  violet: "rgba(110,60,225,0.8)", grey: "rgba(170,170,170,0.9)"
};
const LE107_COLORS = ["orange","red","yellow","green","green","cyan","sky","blue","blue","grey","teal","violet","cyan","green","sky","lime","green","blue","orange","teal"];
const LE108_COLORS = ["green","red","blue","sky","cyan","green","blue","grey","violet","lime","orange","blue","blue","cyan","sky","lime","blue","cyan","green","sky"];
const TB104_COLORS = ["blue","blue","sky","cyan","green","red","yellow","blue","violet","teal","blue","sky","blue","sky","blue","blue","cyan","violet","sky","green"];
const TB106_COLORS = ["violet","red","green","cyan","blue","blue","blue","orange","green","sky","teal","violet","blue","sky","blue","cyan","green","violet","teal","blue"];
const TB102_COLORS = ["green","cyan","blue","red","green","sky","blue","cyan","lime","violet","orange","teal","green","cyan","sky","blue","lime","teal","green","blue"];
const TB103_COLORS = ["blue","green","cyan","red","sky","green","blue","yellow","teal","violet","lime","blue","blue","cyan","sky","green","blue","cyan","teal","sky"];
const TB105_COLORS = ["blue","blue","red","green","cyan","sky","orange","blue","yellow","violet","teal","blue","blue","sky","blue","cyan","green","blue","teal","violet"];

const PANELS = [
  { name: "LE107", mean: LE107_MEAN, upper: LE107_UPPER, lower: LE107_LOWER, windows: LE107_WINDOWS, colors: LE107_COLORS, left: 0,   top: 0,   labelDx: 182 },
  { name: "LE108", mean: LE108_MEAN, upper: LE108_UPPER, lower: LE108_LOWER, windows: LE108_WINDOWS, colors: LE108_COLORS, left: 259, top: 0,   labelDx: 185 },
  { name: "TB104", mean: TB104_MEAN, upper: TB104_UPPER, lower: TB104_LOWER, windows: TB104_WINDOWS, colors: TB104_COLORS, left: 527, top: 0,   labelDx: 190 },
  { name: "TB106", mean: TB106_MEAN, upper: TB106_UPPER, lower: TB106_LOWER, windows: TB106_WINDOWS, colors: TB106_COLORS, left: 778, top: 0,   labelDx: 196 },
  { name: "TB102", mean: TB102_MEAN, upper: TB102_UPPER, lower: TB102_LOWER, windows: TB102_WINDOWS, colors: TB102_COLORS, left: 0,   top: 286, labelDx: 181 },
  { name: "TB103", mean: TB103_MEAN, upper: TB103_UPPER, lower: TB103_LOWER, windows: TB103_WINDOWS, colors: TB103_COLORS, left: 259, top: 286, labelDx: 190 },
  { name: "TB105", mean: TB105_MEAN, upper: TB105_UPPER, lower: TB105_LOWER, windows: TB105_WINDOWS, colors: TB105_COLORS, left: 527, top: 286, labelDx: 189 }
];

const FONT = '"Liberation Sans", Arial, Helvetica, sans-serif';
Chart.defaults.font.family = FONT;

const toPoints = (freqs, vals) => freqs.map((f, i) => ({ x: f, y: vals[i] }));

// frame, panel name and axis titles
const decor = {
  id: "decor",
  afterDraw(chart) {
    const { ctx, chartArea: a } = chart;
    const name = chart.options.plugins.decor.name;
    const dx = chart.options.plugins.decor.labelDx;
    ctx.save();
    ctx.strokeStyle = "#c2c2c2";
    ctx.lineWidth = 1;
    ctx.strokeRect(a.left + 0.5, a.top + 0.5, a.right - a.left - 1, a.bottom - a.top);
    ctx.fillStyle = "#111";
    ctx.font = "14px " + FONT;
    ctx.textAlign = "left";
    ctx.textBaseline = "middle";
    ctx.fillText(name, a.left + dx, a.top + 27);
    ctx.fillStyle = "#333";
    ctx.font = "10px " + FONT;
    ctx.textAlign = "center";
    ctx.fillText("Frequency (Hz)", (a.left + a.right) / 2, a.bottom + 24);
    ctx.translate(13, (a.top + a.bottom) / 2);
    ctx.rotate(-Math.PI / 2);
    ctx.fillText("H/V", 0, 0);
    ctx.restore();
  }
};

function makePanel(p) {
  const canvas = document.createElement("canvas");
  canvas.width = 280;
  canvas.height = 270;
  canvas.style.left = p.left + "px";
  canvas.style.top = p.top + "px";
  canvas.style.width = "280px";
  canvas.style.height = "270px";
  document.body.appendChild(canvas);

  const datasets = p.windows.map((w, i) => ({
    data: toPoints(FREQ_WIN, w),
    borderColor: PALETTE[p.colors[i]],
    borderWidth: 1,
    pointRadius: 0,
    tension: 0.4,
    order: 3
  }));
  datasets.push(
    { data: toPoints(FREQ_MEAN, p.upper), borderColor: "#000", borderWidth: 2.5, borderDash: [8, 4], pointRadius: 0, tension: 0.3, order: 1 },
    { data: toPoints(FREQ_MEAN, p.lower), borderColor: "#000", borderWidth: 2.5, borderDash: [8, 4], pointRadius: 0, tension: 0.3, order: 1 },
    { data: toPoints(FREQ_MEAN, p.mean), borderColor: "#000", borderWidth: 2, pointRadius: 0, tension: 0.3, order: 0 }
  );

  new Chart(canvas, {
    type: "line",
    data: { datasets },
    plugins: [decor],
    options: {
      responsive: false,
      animation: false,
      events: [],
      layout: { padding: { top: 16, right: 26, left: 0, bottom: 0 } },
      plugins: {
        legend: { display: false },
        tooltip: { enabled: false },
        decor: { name: p.name, labelDx: p.labelDx }
      },
      scales: {
        x: {
          type: "logarithmic",
          min: 0.4,
          max: 20,
          afterBuildTicks: s => { s.ticks = X_TICKS.map(v => ({ value: v })); },
          afterFit: s => { s.height = 39; },
          ticks: {
            autoSkip: false,
            maxRotation: 0,
            padding: 2,
            color: "#333",
            font: { size: 10 },
            callback: v => (X_LABELS.includes(v) ? String(v) : "")
          },
          grid: { color: "#f0f0f0", tickLength: 4, tickColor: "#bdbdbd" },
          border: { color: "#bdbdbd" }
        },
        y: {
          min: 0,
          max: 10,
          afterFit: s => { s.width = 38; },
          ticks: {
            stepSize: 0.5,
            autoSkip: false,
            padding: 5,
            color: "#333",
            font: { size: 10 },
            callback: v => (Y_LABELS.includes(v) ? String(v) : "")
          },
          grid: { color: "#f0f0f0", tickLength: 4, tickColor: "#bdbdbd" },
          border: { color: "#bdbdbd" }
        }
      }
    }
  });
}

PANELS.forEach(makePanel);
</script>
</body>
</html>
